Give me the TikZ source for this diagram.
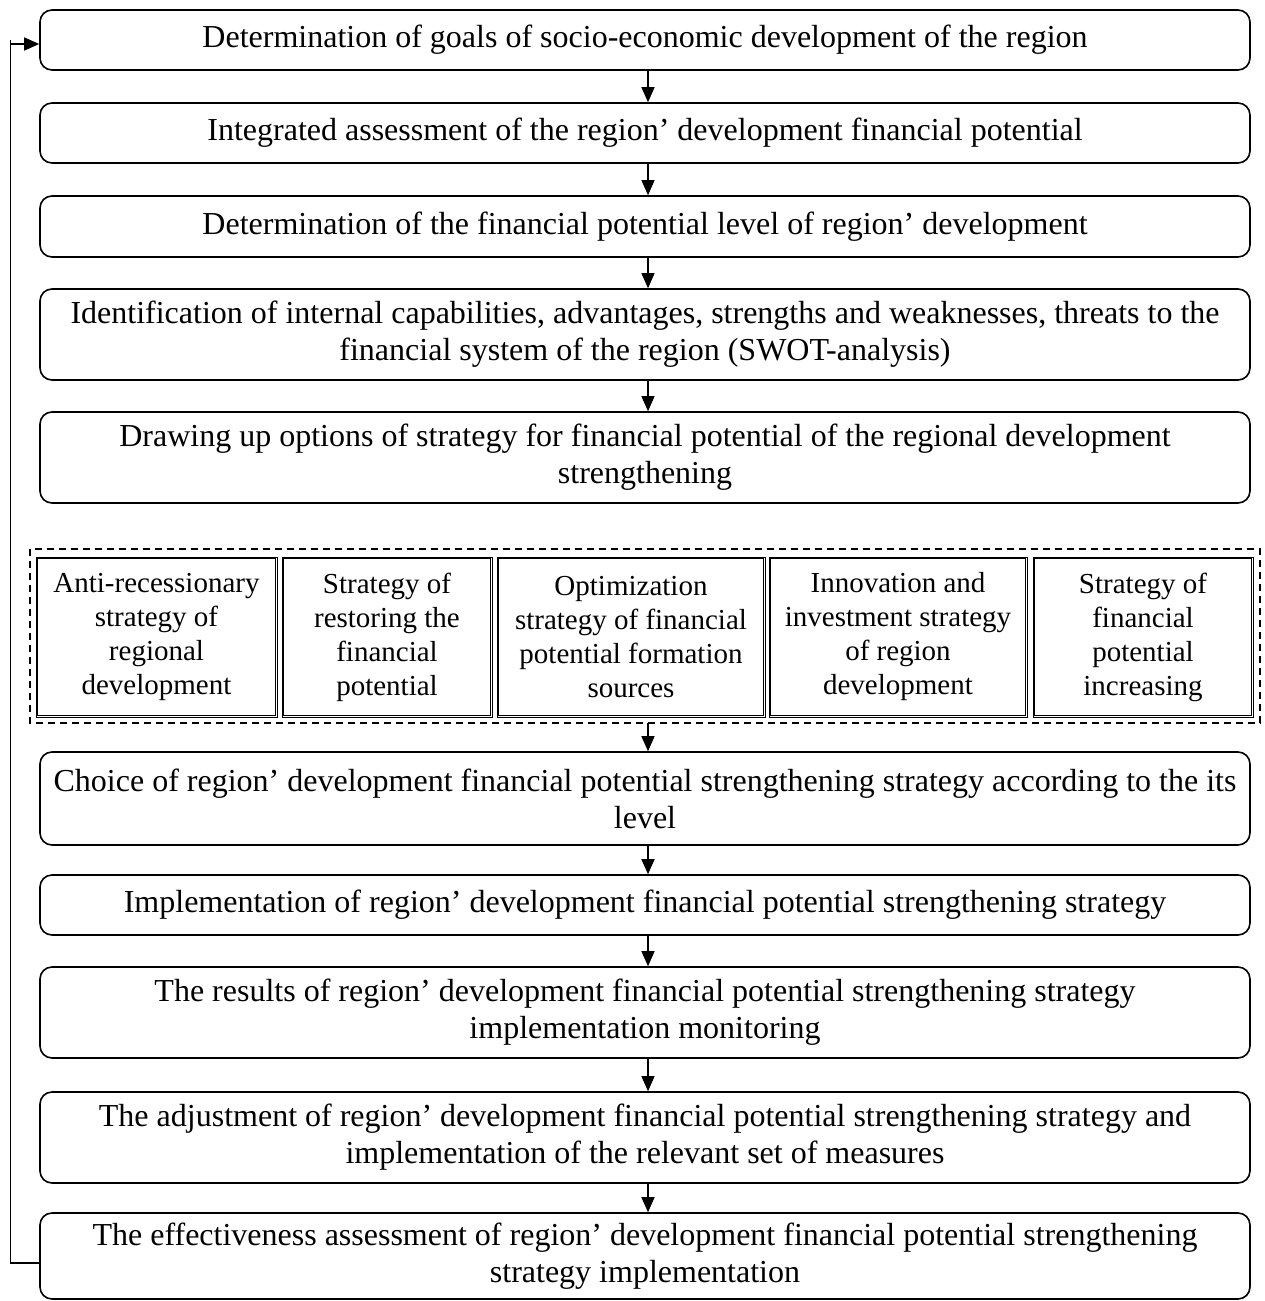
\documentclass[tikz,border=0pt]{standalone}
\usepackage{fontspec}
\setmainfont{Liberation Serif}
\usetikzlibrary{arrows.meta}
\begin{document}
\begin{tikzpicture}[x=1pt,y=-1pt,
  mainbox/.style={draw,line width=1.6pt,rounded corners=12pt,align=center,inner sep=0pt,minimum width=1210pt,font=\fontsize{32}{37}\selectfont},
  subbox/.style={draw,line width=1pt,align=center,inner sep=0pt,minimum height=160pt,font=\fontsize{29}{34}\selectfont},
  subinner/.style={line width=1pt},
  arr/.style={line width=1.3pt,-{Triangle[length=15pt,width=13pt]}},
  loopline/.style={line width=1.3pt}]
\useasboundingbox (0,0) rectangle (1264,1301);
\node[mainbox,minimum height=60pt] (b1) at (645,40) {Determination of goals of socio-economic development of the region};
\node[mainbox,minimum height=60pt] (b2) at (645,133) {Integrated assessment of the region’ development financial potential};
\node[mainbox,minimum height=61pt] (b3) at (645,226.5) {Determination of the financial potential level of region’ development};
\node[mainbox,minimum height=91pt] (b4) at (645,334.5) {Identification of internal capabilities, advantages, strengths and weaknesses, threats to the\\financial system of the region (SWOT-analysis)};
\node[mainbox,minimum height=91pt] (b5) at (645,457.5) {Drawing up options of strategy for financial potential of the regional development\\strengthening};
\draw[line width=1.4pt,dash pattern=on 7pt off 5pt] (30,549) rectangle (1260,723);
\node[subbox,minimum width=241pt] (s1) at (156.5,637) {Anti-recessionary\\strategy of\\regional\\development};
\node[subbox,minimum width=210pt] (s2) at (387,637) {Strategy of\\restoring the\\financial\\potential};
\node[subbox,minimum width=268pt] (s3) at (631,637) {Optimization\\strategy of financial\\potential formation\\sources};
\node[subbox,minimum width=258pt] (s4) at (898,637) {Innovation and\\investment strategy\\of region\\development};
\node[subbox,minimum width=220pt] (s5) at (1143,637) {Strategy of\\financial\\potential\\increasing};
\foreach \s in {s1,s2,s3,s4,s5}
  \draw[subinner] ([xshift=2.4pt,yshift=-2.4pt]\s.north west) rectangle ([xshift=-2.4pt,yshift=2.4pt]\s.south east);
\coordinate (dash) at (648,723);
\node[mainbox,minimum height=93pt] (b6) at (645,798.5) {Choice of region’ development financial potential strengthening strategy according to the its\\level};
\node[mainbox,minimum height=60pt] (b7) at (645,905) {Implementation of region’ development financial potential strengthening strategy};
\node[mainbox,minimum height=91pt] (b8) at (645,1012.5) {The results of region’ development financial potential strengthening strategy\\implementation monitoring};
\node[mainbox,minimum height=91pt] (b9) at (645,1137.5) {The adjustment of region’ development financial potential strengthening strategy and\\implementation of the relevant set of measures};
\node[mainbox,minimum height=86pt] (b10) at (645,1256) {The effectiveness assessment of region’ development financial potential strengthening\\strategy implementation};
\foreach \a/\b in {b1/b2,b2/b3,b3/b4,b4/b5,b6/b7,b7/b8,b8/b9,b9/b10}
  \draw[arr] ([xshift=3pt]\a.south) -- ([xshift=3pt]\b.north);
\draw[arr] (dash) -- ([xshift=3pt]b6.north);
\draw[loopline] ([yshift=-7pt]b10.west) -- ++(-29,0) coordinate (lc) -- (lc |- b1.west) coordinate (tc);
\draw[arr] ([yshift=-4pt]tc) -- ([yshift=-4pt]b1.west);
\end{tikzpicture}
\end{document}
